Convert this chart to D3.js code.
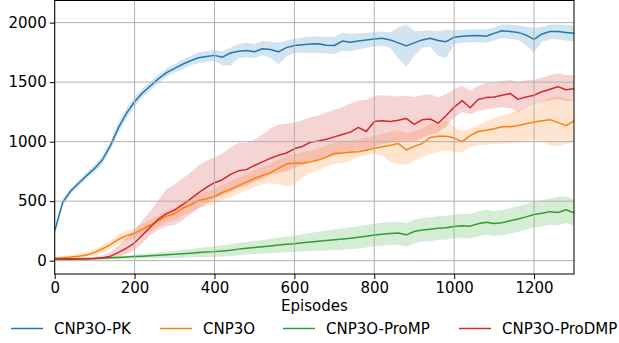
<!DOCTYPE html>
<html>
<head>
<meta charset="utf-8">
<script src="https://cdn.jsdelivr.net/npm/d3@7"></script>
<style>
  body { margin: 0; background: #fff; }
  svg { display: block; font-family: "DejaVu Sans", sans-serif; }
</style>
</head>
<body>
<svg id="chart" width="619" height="343"></svg>
<script>
// episodes sampled every 20 steps, 0..1300
const episodes = d3.range(0, 1301, 20);

const pkMean = [250, 490, 585, 650, 715, 775, 850, 970, 1120, 1240, 1335, 1410, 1470, 1530, 1580, 1615, 1650, 1680, 1705, 1715, 1725, 1710, 1745, 1760, 1765, 1755, 1780, 1775, 1755, 1790, 1808, 1815, 1820, 1822, 1810, 1808, 1845, 1835, 1845, 1855, 1862, 1868, 1855, 1830, 1805, 1830, 1855, 1868, 1850, 1840, 1878, 1885, 1890, 1892, 1885, 1910, 1932, 1925, 1918, 1895, 1860, 1905, 1925, 1925, 1918, 1910];
const pkLo = [220, 460, 560, 625, 690, 745, 815, 935, 1075, 1195, 1295, 1375, 1435, 1495, 1545, 1580, 1610, 1640, 1660, 1670, 1680, 1640, 1640, 1700, 1710, 1700, 1725, 1705, 1650, 1715, 1745, 1750, 1745, 1745, 1740, 1735, 1765, 1760, 1775, 1790, 1800, 1805, 1790, 1700, 1630, 1720, 1790, 1800, 1720, 1700, 1820, 1830, 1835, 1835, 1830, 1850, 1870, 1865, 1855, 1810, 1750, 1840, 1860, 1860, 1850, 1840];
const pkHi = [280, 520, 610, 675, 740, 805, 885, 1010, 1165, 1285, 1375, 1445, 1505, 1565, 1615, 1650, 1690, 1720, 1750, 1760, 1770, 1760, 1790, 1820, 1830, 1820, 1845, 1840, 1830, 1850, 1865, 1875, 1880, 1885, 1880, 1880, 1915, 1905, 1910, 1915, 1920, 1925, 1920, 1960, 1985, 1930, 1930, 1935, 1930, 1940, 1935, 1940, 1945, 1945, 1945, 1960, 1985, 1985, 1975, 1965, 1955, 1965, 1985, 1985, 1980, 1975];

const cnpMean = [20, 25, 30, 38, 48, 70, 100, 135, 180, 210, 230, 265, 300, 335, 375, 395, 440, 470, 505, 520, 540, 575, 600, 630, 660, 690, 715, 740, 775, 812, 820, 818, 830, 845, 870, 900, 905, 910, 915, 928, 945, 958, 970, 985, 930, 960, 985, 1035, 1045, 1045, 1030, 1000, 1050, 1085, 1095, 1108, 1125, 1125, 1135, 1150, 1165, 1175, 1185, 1160, 1135, 1175];
const cnpLo = [10, 12, 15, 20, 30, 45, 70, 100, 140, 170, 190, 220, 250, 285, 320, 340, 380, 410, 440, 460, 480, 510, 530, 560, 590, 620, 640, 650, 640, 625, 640, 700, 735, 760, 790, 815, 820, 840, 870, 890, 900, 880, 830, 810, 805, 840, 870, 900, 915, 925, 915, 910, 955, 970, 975, 980, 985, 985, 995, 1005, 1015, 1000, 970, 960, 980, 1000];
const cnpHi = [30, 38, 45, 58, 70, 95, 130, 170, 220, 250, 270, 310, 345, 380, 420, 445, 490, 525, 560, 580, 605, 640, 670, 700, 730, 760, 790, 815, 850, 880, 895, 910, 925, 945, 965, 990, 1000, 1010, 1020, 1035, 1050, 1065, 1080, 1095, 1070, 1090, 1110, 1150, 1165, 1175, 1120, 1090, 1110, 1140, 1170, 1200, 1220, 1240, 1260, 1280, 1300, 1330, 1370, 1380, 1360, 1350];

const promMean = [14, 15, 16, 17, 18, 19, 21, 24, 27, 31, 34, 38, 42, 46, 50, 53, 58, 63, 68, 72, 76, 82, 88, 97, 104, 110, 116, 123, 131, 137, 142, 150, 157, 163, 170, 176, 182, 188, 196, 205, 215, 222, 228, 232, 217, 245, 258, 265, 273, 277, 288, 293, 290, 310, 322, 312, 318, 335, 350, 368, 388, 398, 412, 405, 428, 403];
const promLo = [8, 9, 10, 10, 11, 11, 12, 14, 15, 18, 19, 21, 22, 23, 24, 23, 25, 27, 29, 30, 31, 35, 39, 46, 51, 55, 58, 62, 67, 70, 72, 77, 81, 83, 86, 88, 92, 96, 103, 111, 120, 126, 131, 134, 118, 145, 158, 165, 173, 177, 188, 191, 187, 206, 217, 207, 212, 228, 243, 260, 279, 288, 302, 295, 318, 293];
const promHi = [20, 21, 22, 24, 25, 27, 30, 34, 39, 44, 49, 55, 62, 69, 76, 83, 91, 99, 107, 114, 121, 129, 137, 148, 157, 165, 174, 184, 195, 204, 212, 223, 233, 243, 254, 264, 272, 280, 289, 299, 310, 318, 325, 330, 316, 345, 358, 365, 373, 377, 388, 395, 393, 414, 427, 417, 424, 442, 458, 476, 497, 507, 522, 535, 540, 513];

const prodMean = [12, 12, 12, 13, 14, 18, 25, 38, 70, 105, 150, 215, 285, 350, 395, 425, 470, 520, 570, 615, 655, 680, 725, 755, 765, 800, 830, 860, 885, 905, 940, 960, 995, 1005, 1020, 1040, 1060, 1080, 1120, 1085, 1170, 1175, 1170, 1180, 1195, 1145, 1185, 1190, 1155, 1220, 1290, 1345, 1285, 1355, 1370, 1375, 1390, 1405, 1355, 1375, 1390, 1420, 1440, 1462, 1436, 1445];
const prodLo = [5, 5, 5, 5, 6, 8, 10, 15, 30, 55, 90, 150, 215, 260, 290, 300, 340, 390, 440, 480, 520, 550, 580, 610, 630, 660, 690, 720, 740, 750, 780, 800, 830, 850, 870, 880, 900, 910, 930, 920, 960, 980, 990, 1000, 1010, 1000, 1030, 1060, 1080, 1130, 1200, 1250, 1230, 1260, 1270, 1280, 1290, 1280, 1250, 1280, 1310, 1330, 1345, 1360, 1340, 1345];
const prodHi = [20, 20, 20, 22, 25, 30, 45, 70, 130, 190, 260, 340, 420, 510, 600, 640, 690, 740, 800, 840, 870, 900, 950, 990, 990, 1015, 1060, 1110, 1145, 1150, 1160, 1180, 1205, 1220, 1245, 1270, 1290, 1320, 1345, 1350, 1385, 1390, 1385, 1380, 1385, 1375, 1390, 1400, 1370, 1400, 1440, 1470, 1430, 1470, 1490, 1495, 1510, 1520, 1500, 1515, 1520, 1540, 1560, 1575, 1560, 1560];

const seriesNames = ["CNP3O-PK", "CNP3O", "CNP3O-ProMP", "CNP3O-ProDMP"];
const seriesColors = ["#1f77b4", "#ff7f0e", "#2ca02c", "#d62728"];
const xTicks = [0, 200, 400, 600, 800, 1000, 1200];
const yTicks = [0, 500, 1000, 1500, 2000];

const series = [
  { mean: pkMean, lo: pkLo, hi: pkHi },
  { mean: cnpMean, lo: cnpLo, hi: cnpHi },
  { mean: promMean, lo: promLo, hi: promHi },
  { mean: prodMean, lo: prodLo, hi: prodHi }
];

const svg = d3.select("#chart");
const plotLeft = 54.7, plotRight = 574, plotTop = 0.5, plotBottom = 274;

const x = d3.scaleLinear().domain([0, 1300]).range([plotLeft, plotRight]);
const y = d3.scaleLinear().domain([-112, 2186]).range([plotBottom, plotTop]);

svg.append("clipPath").attr("id", "clip")
  .append("rect").attr("x", plotLeft).attr("y", plotTop)
  .attr("width", plotRight - plotLeft).attr("height", plotBottom - plotTop);

const plot = svg.append("g").attr("clip-path", "url(#clip)");

// shaded bands first (matplotlib draws collections under the grid)
const area = d3.area()
  .x((d, i) => x(episodes[i]))
  .y0(d => y(d[0]))
  .y1(d => y(d[1]));

series.forEach((s, k) => {
  plot.append("path")
    .datum(s.lo.map((v, i) => [v, s.hi[i]]))
    .attr("d", area)
    .attr("fill", seriesColors[k])
    .attr("fill-opacity", 0.2);
});

// grid
const grid = svg.append("g");
xTicks.forEach(t => {
  grid.append("line")
    .attr("x1", x(t)).attr("x2", x(t)).attr("y1", plotTop).attr("y2", plotBottom)
    .attr("stroke", "#b0b0b0").attr("stroke-width", 1);
});
yTicks.forEach(t => {
  grid.append("line")
    .attr("x1", plotLeft).attr("x2", plotRight).attr("y1", y(t)).attr("y2", y(t))
    .attr("stroke", "#b0b0b0").attr("stroke-width", 1);
});

// mean lines
const line = d3.line()
  .x((d, i) => x(episodes[i]))
  .y(d => y(d));

series.forEach((s, k) => {
  plot.append("path")
    .datum(s.mean)
    .attr("d", line)
    .attr("fill", "none")
    .attr("stroke", seriesColors[k])
    .attr("stroke-width", 1.5)
    .attr("stroke-linejoin", "round");
});

// axes
const xAxis = svg.append("g")
  .attr("transform", `translate(0,${plotBottom})`)
  .call(d3.axisBottom(x).tickValues(xTicks).tickSize(5).tickPadding(3).tickFormat(d3.format("d")));
const yAxis = svg.append("g")
  .attr("transform", `translate(${plotLeft},0)`)
  .call(d3.axisLeft(y).tickValues(yTicks).tickSize(5).tickPadding(3).tickFormat(d3.format("d")));

[xAxis, yAxis].forEach(a => {
  a.select(".domain").remove();
  a.selectAll("text").attr("font-size", 15).attr("fill", "#000")
    .attr("font-family", "DejaVu Sans");
  a.selectAll("line").attr("stroke", "#000");
});

// box
svg.append("rect")
  .attr("x", plotLeft).attr("y", plotTop)
  .attr("width", plotRight - plotLeft).attr("height", plotBottom - plotTop)
  .attr("fill", "none").attr("stroke", "#000").attr("stroke-width", 1);

svg.append("text")
  .attr("x", (plotLeft + plotRight) / 2).attr("y", 311)
  .attr("text-anchor", "middle")
  .attr("font-size", 15)
  .text("Episodes");

// legend
const legendX = [11, 160, 283, 459];
const legend = svg.append("g");
seriesNames.forEach((name, k) => {
  legend.append("line")
    .attr("x1", legendX[k]).attr("x2", legendX[k] + 32)
    .attr("y1", 328.5).attr("y2", 328.5)
    .attr("stroke", seriesColors[k]).attr("stroke-width", 1.5);
  legend.append("text")
    .attr("x", legendX[k] + 43).attr("y", 333.5)
    .attr("font-size", 15)
    .text(name);
});
</script>
</body>
</html>
